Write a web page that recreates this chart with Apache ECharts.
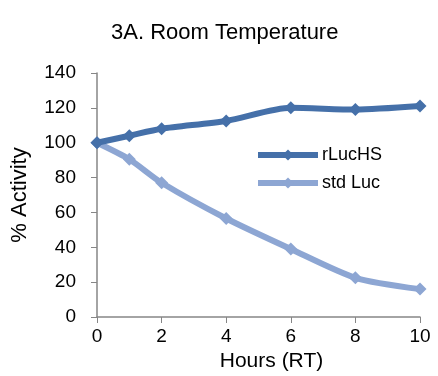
<!DOCTYPE html>
<html>
<head>
<meta charset="utf-8">
<script src="https://cdn.jsdelivr.net/npm/echarts@6/dist/echarts.min.js"></script>
<style>
  html, body { margin: 0; padding: 0; background: #fff; }
  #main { width: 438px; height: 376px; }
</style>
</head>
<body>
<div id="main"></div>
<script>
const hours = [0, 1, 2, 4, 6, 8, 10];
const rLucHS = [100, 104, 108, 112.5, 120, 119, 121];
const stdLuc = [100, 90.5, 77, 56.5, 39, 22.5, 16];
const xTicks = [0, 2, 4, 6, 8, 10];
const yTicks = [0, 20, 40, 60, 80, 100, 120, 140];

const font = 'Liberation Sans, Arial, sans-serif';
const axisColor = '#868686';
const darkBlue = '#4570A9';
const lightBlue = '#8DA6D3';

const chart = echarts.init(document.getElementById('main'));

const pairs = (ys) => hours.map((h, i) => [h, ys[i]]);

chart.setOption({
  animation: false,
  title: {
    text: '3A. Room Temperature',
    left: 106,
    top: 17,
    textStyle: { fontFamily: font, fontSize: 22, fontWeight: 'normal', color: '#000' }
  },
  grid: { left: 97, right: 18, top: 73, bottom: 59, outerBoundsMode: 'none', containLabel: false },
  legend: {
    orient: 'vertical',
    left: 255,
    top: 146,
    padding: 0,
    itemWidth: 60,
    itemHeight: 14,
    itemGap: 10,
    lineStyle: { width: 6 },
    textStyle: { fontFamily: font, fontSize: 18, color: '#000', padding: [0, 0, 0, -1] },
    data: ['rLucHS', 'std Luc']
  },
  xAxis: {
    type: 'value',
    min: 0,
    max: 10,
    interval: 2,
    name: 'Hours (RT)',
    nameLocation: 'middle',
    nameGap: 33,
    nameTextStyle: { fontFamily: font, fontSize: 21, color: '#000', padding: [0, 0, 0, 26] },
    axisLine: { lineStyle: { color: axisColor, width: 1.5 } },
    axisTick: { show: true, length: 6, lineStyle: { color: axisColor } },
    axisLabel: {
      fontFamily: font, fontSize: 19, color: '#000', margin: 10,
      formatter: (v) => xTicks.includes(v) ? String(v) : ''
    },
    splitLine: { show: false }
  },
  yAxis: {
    type: 'value',
    min: 0,
    max: 140,
    interval: 20,
    name: '% Activity',
    nameLocation: 'middle',
    nameGap: 66,
    nameTextStyle: { fontFamily: font, fontSize: 22, color: '#000' },
    axisLine: { show: true, lineStyle: { color: axisColor, width: 1.5 } },
    axisTick: { show: true, length: 6, lineStyle: { color: axisColor } },
    axisLabel: {
      fontFamily: font, fontSize: 19, color: '#000', margin: 21,
      formatter: (v) => yTicks.includes(v) ? String(v) : ''
    },
    splitLine: { show: false }
  },
  series: [
    {
      name: 'rLucHS',
      type: 'line',
      data: pairs(rLucHS),
      smooth: 0.25,
      symbol: 'diamond',
      symbolSize: 13,
      lineStyle: { width: 6, color: darkBlue },
      itemStyle: { color: darkBlue },
      z: 3
    },
    {
      name: 'std Luc',
      type: 'line',
      data: pairs(stdLuc),
      smooth: 0.25,
      symbol: 'diamond',
      symbolSize: 13,
      lineStyle: { width: 6, color: lightBlue },
      itemStyle: { color: lightBlue },
      z: 2
    }
  ]
});
</script>
</body>
</html>
